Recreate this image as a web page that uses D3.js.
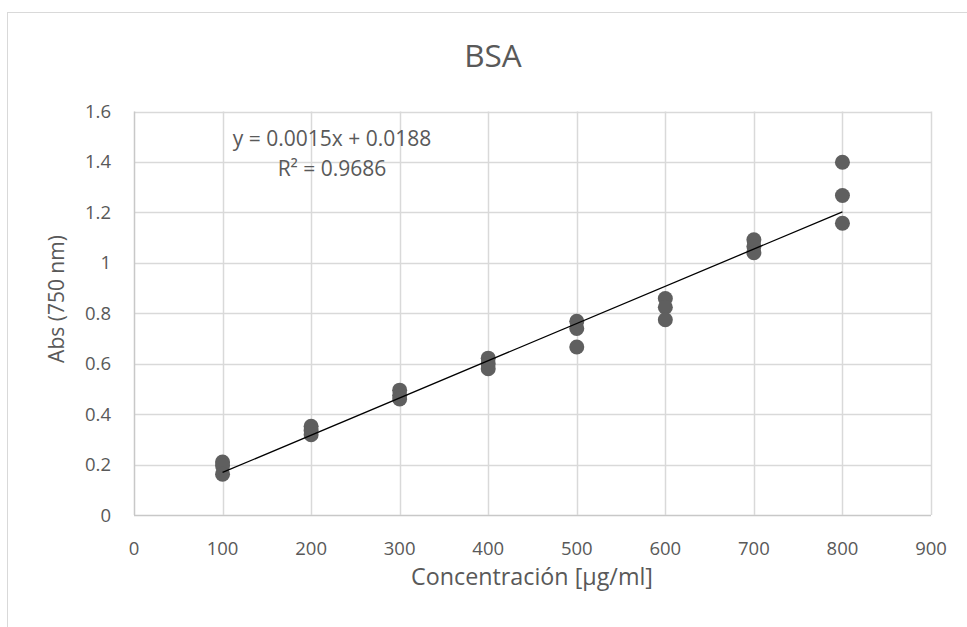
<!DOCTYPE html>
<html>
<head>
<meta charset="utf-8">
<script src="https://cdn.jsdelivr.net/npm/d3@7"></script>
<style>
	body { margin: 0; background: #fff; }
	text { font-family: "Open Sans", "Liberation Sans", sans-serif; fill: #595959; }
</style>
</head>
<body>
<script>
"use strict";

// Data
let concentrations = [100, 100, 100, 200, 200, 200, 300, 300, 300, 400, 400, 400,
	500, 500, 500, 600, 600, 600, 700, 700, 700, 800, 800, 800];
let absorbances = [0.210, 0.195, 0.162, 0.352, 0.335, 0.318, 0.495, 0.475, 0.460,
	0.622, 0.600, 0.580, 0.768, 0.740, 0.666, 0.858, 0.824, 0.774,
	1.091, 1.065, 1.040, 1.399, 1.267, 1.157];
let xTicks = [0, 100, 200, 300, 400, 500, 600, 700, 800, 900];
let yTicks = [0, 0.2, 0.4, 0.6, 0.8, 1, 1.2, 1.4, 1.6];
let trendLabels = ["y = 0.0015x + 0.0188", "R\u00b2 = 0.9686"];

let chartTitle = "BSA",
	xTitle = "Concentraci\u00f3n [\u00b5g/ml]",
	yTitle = "Abs (750 nm)";

function draw() {

	let width = 967,
		height = 627;

	let svg = d3.select("body").append("svg")
		.attr("width", width)
		.attr("height", height);

	// outer chart border (cut off at right and bottom)
	svg.append("rect")
		.attr("x", 7.5).attr("y", 12.5)
		.attr("width", 1000).attr("height", 700)
		.attr("fill", "none")
		.attr("stroke", "#d9d9d9");

	let plot = { left: 134, right: 931, top: 111.5, bottom: 515 };

	let xScale = d3.scaleLinear().domain([0, 900]).range([plot.left, plot.right]);
	let yScale = d3.scaleLinear().domain([0, 1.6]).range([plot.bottom, plot.top]);

	// gridlines
	svg.append("g").selectAll("line.h")
		.data(yTicks)
		.enter().append("line")
			.attr("x1", plot.left).attr("x2", plot.right)
			.attr("y1", d => Math.round(yScale(d)) + 0.5)
			.attr("y2", d => Math.round(yScale(d)) + 0.5)
			.attr("stroke", d => d === 0 ? "#c8c8c8" : "#d9d9d9")
			.attr("stroke-width", 1.5);

	svg.append("g").selectAll("line.v")
		.data(xTicks)
		.enter().append("line")
			.attr("y1", plot.top).attr("y2", plot.bottom)
			.attr("x1", d => Math.round(xScale(d)) + 0.5)
			.attr("x2", d => Math.round(xScale(d)) + 0.5)
			.attr("stroke", d => d === 0 ? "#c8c8c8" : "#d9d9d9")
			.attr("stroke-width", 1.5);

	// tick labels
	svg.append("g").selectAll("text")
		.data(yTicks)
		.enter().append("text")
			.attr("x", 111)
			.attr("y", d => yScale(d) + 6.5)
			.attr("text-anchor", "end")
			.attr("font-size", 18.5)
			.text(d => d3.format("~g")(d));

	svg.append("g").selectAll("text")
		.data(xTicks)
		.enter().append("text")
			.attr("x", d => xScale(d))
			.attr("y", 555)
			.attr("text-anchor", "middle")
			.attr("font-size", 18.5)
			.text(d => d);

	// titles
	svg.append("text")
		.attr("x", 493).attr("y", 67)
		.attr("text-anchor", "middle")
		.attr("font-size", 31.5)
		.text(chartTitle);

	svg.append("text")
		.attr("x", 532).attr("y", 585)
		.attr("text-anchor", "middle")
		.attr("font-size", 23.3)
		.text(xTitle);

	svg.append("text")
		.attr("transform", "translate(64,299) rotate(-90)")
		.attr("text-anchor", "middle")
		.attr("font-size", 21)
		.text(yTitle);

	// points
	let points = concentrations.map((c, i) => ({ x: c, y: absorbances[i] }));

	svg.append("g").selectAll("circle")
		.data(points)
		.enter().append("circle")
			.attr("cx", d => xScale(d.x))
			.attr("cy", d => yScale(d.y))
			.attr("r", 7.5)
			.attr("fill", "#5f5f5f");

	// linear trendline, least squares over the points
	let mx = d3.mean(points, d => d.x),
		my = d3.mean(points, d => d.y);
	let slope = d3.sum(points, d => (d.x - mx) * (d.y - my)) / d3.sum(points, d => (d.x - mx) ** 2),
		intercept = my - slope * mx;
	let xExt = d3.extent(concentrations);

	svg.append("line")
		.attr("x1", xScale(xExt[0])).attr("y1", yScale(slope * xExt[0] + intercept))
		.attr("x2", xScale(xExt[1])).attr("y2", yScale(slope * xExt[1] + intercept))
		.attr("stroke", "#000")
		.attr("stroke-width", 1.3);

	// equation label
	svg.append("g").selectAll("text")
		.data(trendLabels)
		.enter().append("text")
			.attr("x", 332)
			.attr("y", (d, i) => 146 + i * 30)
			.attr("text-anchor", "middle")
			.attr("font-size", 21)
			.text(d => d);
};

draw();
</script>
</body>
</html>
